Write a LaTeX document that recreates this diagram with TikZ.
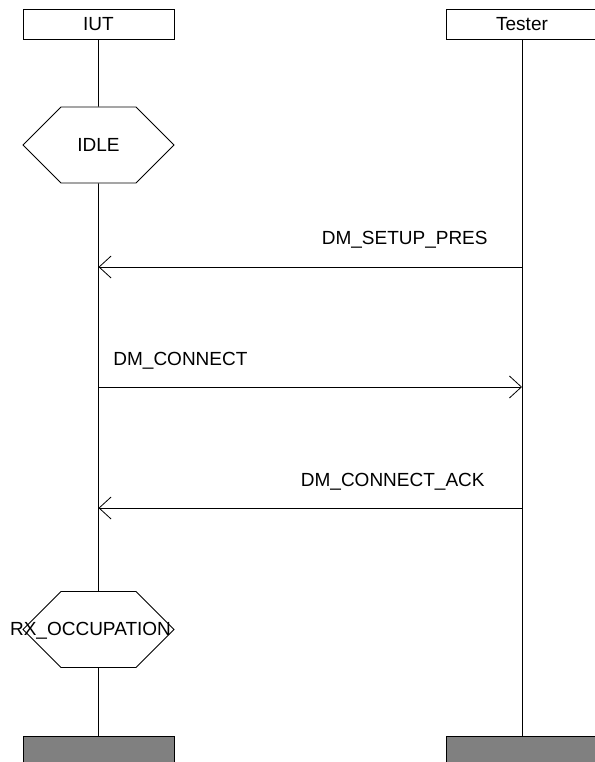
\documentclass[tikz,border=0pt]{standalone}
\usepackage{fontspec}
\setmainfont{Liberation Sans}
\usetikzlibrary{positioning,arrows.meta,shapes.symbols}
\definecolor{endgray}{RGB}{128,128,128}

\begin{document}
\begin{tikzpicture}[x=1pt,y=-1pt,
  font=\fontsize{19}{22}\selectfont,
  every path/.style={line width=0.8pt},
  entity/.style={rectangle,draw,minimum width=151pt,minimum height=30pt,inner sep=0pt},
  stopbox/.style={rectangle,draw,fill=endgray,minimum width=151pt,minimum height=30pt,inner sep=0pt},
  statebox/.style={signal,signal to=west and east,signal pointer angle=90,draw,
    minimum width=151pt,minimum height=76pt,inner sep=0pt},
  msg/.style={-{Straight Barb[length=12pt,width=22pt]}},
  msgtext/.style={inner sep=0pt}
]
\useasboundingbox (0,0) rectangle (594,762);
% instances
\node[entity] (iut) at (98.5,24) {IUT};
\node[entity] (tester) at (522,24) {Tester};
\node[stopbox,anchor=north] (iutend) at (98.5,736) {};
\node[stopbox,anchor=north] (testerend) at (522,736) {};
% states
\node[statebox] (idle) at (98.5,145) {IDLE};
\node[statebox,label={[inner sep=0pt,xshift=-8pt,yshift=-1pt]center:RX\_OCCUPATION}] (rxocc) at (98.5,629.5) {};
% lifelines
\draw (iut) -- (idle) -- (rxocc) -- (iutend);
\draw (tester) -- (testerend);
% messages
\coordinate (tsetup) at (522,267);
\coordinate (isetup) at (98.5,267);
\coordinate (iconn) at (98.5,387);
\coordinate (tconn) at (522,387);
\coordinate (tack) at (522,508);
\coordinate (iack) at (98.5,508);
\draw[msg] (tsetup) -- (isetup);
\draw[msg] (iconn) -- (tconn);
\draw[msg] (tack) -- (iack);
\node[msgtext,anchor=base east] (lsetup) at (488,244) {DM\_SETUP\_PRES};
\node[msgtext,anchor=base west] (lconn) at (113,365) {DM\_CONNECT};
\node[msgtext,anchor=base east] (lack) at (485,486) {DM\_CONNECT\_ACK};
\end{tikzpicture}
\end{document}
